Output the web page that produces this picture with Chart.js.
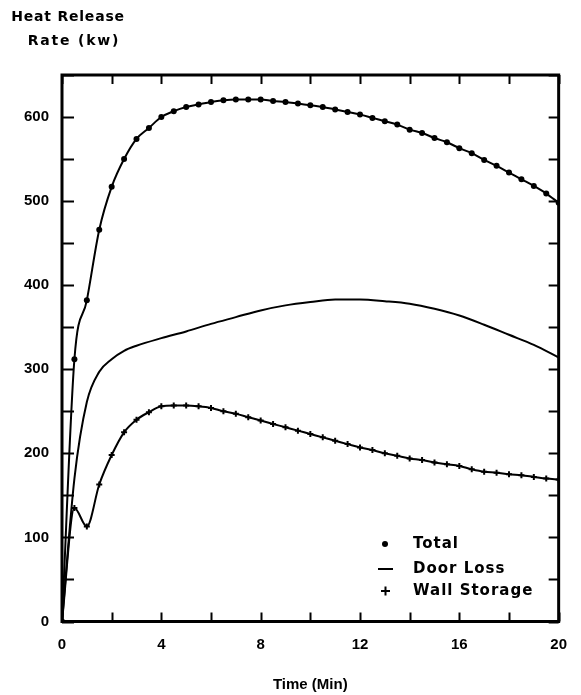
<!DOCTYPE html>
<html>
<head>
<meta charset="utf-8">
<script src="https://cdn.jsdelivr.net/npm/chart.js@4/dist/chart.umd.min.js"></script>
<style>
html, body { margin: 0; padding: 0; background: #fff; }
#wrap { width: 581px; height: 695px; }
</style>
</head>
<body>
<div id="wrap"><canvas id="chart_1" width="581" height="695"></canvas></div>
<script>
// time in minutes, total and wall storage read every half minute
var times = [0, 0.5, 1, 1.5, 2, 2.5, 3, 3.5, 4, 4.5, 5, 5.5, 6, 6.5, 7, 7.5, 8, 8.5, 9, 9.5, 10,
	10.5, 11, 11.5, 12, 12.5, 13, 13.5, 14, 14.5, 15, 15.5, 16, 16.5, 17, 17.5, 18, 18.5, 19, 19.5, 20];
var total = [0, 312, 382, 466, 517, 550, 574, 587, 600, 607, 612, 615, 618, 620, 621, 621, 621, 619, 618, 616, 614,
	612, 609, 606, 603, 599, 595, 591, 585, 581, 575, 570, 563, 557, 549, 542, 534, 526, 518, 509, 498];
var wallStorage = [0, 135, 113, 163, 198, 225, 240, 249, 256, 257, 257, 256, 254, 250, 247, 243, 239, 235, 231, 227, 223,
	219, 215, 211, 207, 204, 200, 197, 194, 192, 189, 187, 185, 181, 178, 177, 175, 174, 172, 170, 169];
// door loss has no markers, read at a coarser step
var doorTimes = [0, 0.5, 1, 1.5, 2, 2.5, 3, 4, 5, 6, 7, 8, 9, 10, 11, 12, 13, 14, 15, 16, 17, 18, 19, 20];
var doorLoss = [0, 170, 261, 297, 312, 322, 328, 337, 345, 354, 362, 370, 376, 380, 383, 383, 381, 378, 372, 364, 353, 341, 329, 314];

var xTicks = [0, 4, 8, 12, 16, 20];
var yTicks = [0, 100, 200, 300, 400, 500, 600];

function pts(xs, ys) {
	var out = [];
	for (var i = 0; i < xs.length; i++) out.push({x: xs[i], y: ys[i]});
	return out;
}

// frame with inward tick marks on all four sides
var framePlugin = {
	id: 'frame',
	afterDraw: function(chart) {
		var ctx = chart.ctx, a = chart.chartArea, sx = chart.scales.x, sy = chart.scales.y;
		ctx.save();
		ctx.strokeStyle = '#000';
		ctx.lineWidth = 2;
		ctx.beginPath();
		sy.ticks.forEach(function(t) {
			var py = Math.round(sy.getPixelForValue(t.value)) + 0.5;
			ctx.moveTo(a.left, py); ctx.lineTo(a.left + 12, py);
			ctx.moveTo(a.right, py); ctx.lineTo(a.right - 10, py);
		});
		sx.ticks.forEach(function(t) {
			var px = Math.round(sx.getPixelForValue(t.value)) + 0.5;
			ctx.moveTo(px, a.bottom); ctx.lineTo(px, a.bottom - 9);
			ctx.moveTo(px, a.top); ctx.lineTo(px, a.top + 9);
		});
		ctx.stroke();
		ctx.lineWidth = 3;
		ctx.strokeRect(a.left, a.top, a.right - a.left, a.bottom - a.top);

		// y axis title, top left
		ctx.fillStyle = '#000';
		ctx.font = 'bold 14px "DejaVu Sans"';
		ctx.textAlign = 'center';
		ctx.textBaseline = 'middle';
		ctx.letterSpacing = '0.8px';
		ctx.fillText('Heat Release', 68, 17);
		ctx.letterSpacing = '1.8px';
		ctx.fillText('Rate (kw)', 74, 41);

		// legend inside the plot
		var ds = chart.data.datasets;
		ctx.font = 'bold 15px "DejaVu Sans"';
		ctx.letterSpacing = '1px';
		ctx.textAlign = 'left';
		var lx = 413, ly = [544, 569, 591];
		ctx.fillText(ds[0].label, lx, ly[0]);
		ctx.fillText(ds[1].label, lx, ly[1]);
		ctx.fillText(ds[2].label, lx, ly[2]);
		ctx.beginPath(); ctx.arc(385, ly[0], 3, 0, Math.PI * 2); ctx.fill();
		ctx.lineWidth = 2;
		ctx.beginPath();
		ctx.moveTo(378, ly[1]); ctx.lineTo(393, ly[1]);
		ctx.moveTo(381, ly[2]); ctx.lineTo(390, ly[2]);
		ctx.moveTo(385.5, ly[2] - 4.5); ctx.lineTo(385.5, ly[2] + 4.5);
		ctx.stroke();
		ctx.restore();
	}
};

var ctx_1 = document.getElementById('chart_1').getContext('2d');
var chart_1 = new Chart(ctx_1, {
	type: 'line',
	data: {
		datasets: [
			{label: 'Total', data: pts(times, total), borderColor: '#000', backgroundColor: '#000',
				borderWidth: 2, pointRadius: 3, pointBorderWidth: 0, pointStyle: 'circle', cubicInterpolationMode: 'monotone'},
			{label: 'Door Loss', data: pts(doorTimes, doorLoss), borderColor: '#000',
				borderWidth: 2, pointRadius: 0, cubicInterpolationMode: 'monotone'},
			{label: 'Wall Storage', data: pts(times, wallStorage), borderColor: '#000', backgroundColor: '#000',
				borderWidth: 2, pointRadius: 3, pointBorderWidth: 2, pointStyle: 'cross', cubicInterpolationMode: 'monotone'}
		]
	},
	options: {
		responsive: false,
		animation: false,
		events: [],
		layout: {padding: {top: 75, right: 21, left: 0, bottom: 0}},
		plugins: {legend: {display: false}, tooltip: {enabled: false}},
		scales: {
			x: {
				type: 'linear', min: 0, max: 20,
				grid: {display: false, drawTicks: false},
				border: {display: false},
				ticks: {
					stepSize: 2, padding: 14, color: '#000',
					font: {family: '"Liberation Sans"', size: 15, weight: 'bold'},
					callback: function(v) { return xTicks.indexOf(v) >= 0 ? v : ''; }
				},
				title: {display: true, text: 'Time (Min)', color: '#000',
					font: {family: '"Liberation Sans"', size: 15, weight: 'bold'}, padding: {top: 0, bottom: 1}},
				afterFit: function(s) { s.height = 73.5; }
			},
			y: {
				min: 0, max: 650,
				grid: {display: false, drawTicks: false},
				border: {display: false},
				ticks: {
					stepSize: 50, padding: 13, color: '#000',
					font: {family: '"Liberation Sans"', size: 15, weight: 'bold'},
					callback: function(v) { return yTicks.indexOf(v) >= 0 ? v : ''; }
				},
				afterFit: function(s) { s.width = 62; }
			}
		}
	},
	plugins: [framePlugin]
});
</script>
</body>
</html>
